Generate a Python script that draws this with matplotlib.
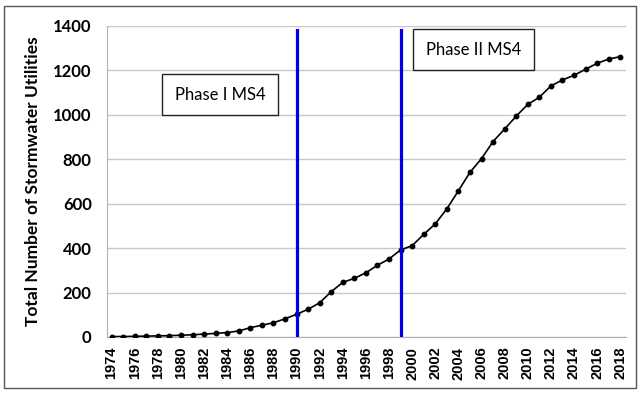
import numpy as np
import matplotlib.pyplot as plt
from matplotlib.patches import Rectangle

# yearly totals
years = list(range(1974, 2019))
utilities = [2, 2, 3, 4, 5, 6, 8, 10, 13, 16,
             20, 27, 42, 53, 64, 82, 102, 125, 154, 204,
             246, 264, 289, 323, 351, 392, 411, 462, 509, 577,
             658, 741, 803, 880, 936, 994, 1047, 1079, 1130, 1157,
             1178, 1205, 1232, 1251, 1262]

phase_years = [1990, 1999]
phase_labels = ['Phase I MS4', 'Phase II MS4']
y_ticks = [0, 200, 400, 600, 800, 1000, 1200, 1400]
x_ticks = list(range(1974, 2019, 2))

fig = plt.figure(figsize=(6.41, 3.98), dpi=100)
ax = fig.add_axes([0.1669, 0.1533, 0.8097, 0.7814])

# outer frame
fig.patches.append(Rectangle((0.006, 0.025), 0.986, 0.96, transform=fig.transFigure,
                             fill=False, edgecolor='#555555', linewidth=1.0))

ax.plot(years, utilities, color='black', linewidth=1.2, marker='o', markersize=3.2, zorder=3)

for yr in phase_years:
    ax.plot([yr, yr], [0, 1380], color='#0000e6', linewidth=2.3, zorder=4)

box = dict(boxstyle='square,pad=0.75', facecolor='white', edgecolor='#222222', linewidth=1.0)
ax.text(1983.4, 1090, phase_labels[0], ha='center', va='center', fontsize=12,
        family='Lato', bbox=box)
ax.text(2005.3, 1293, phase_labels[1], ha='center', va='center', fontsize=12,
        family='Lato', bbox=box)

ax.set_xlim(1973.6, 2018.5)
ax.set_ylim(0, 1400)
ax.set_yticks(y_ticks)
ax.set_xticks(x_ticks)
ax.set_xticklabels([str(x) for x in x_ticks], rotation=90, fontsize=10.5,
                   fontweight='bold', family='Liberation Sans')
ax.set_yticklabels([str(y) for y in y_ticks], fontsize=12, fontweight='bold', family='Lato')
ax.tick_params(axis='y', length=0, pad=11)
ax.tick_params(axis='x', length=0, pad=7)

ax.grid(axis='y', color='#c8c8c8', linewidth=1.0)
ax.set_axisbelow(True)
for s in ['top', 'right']:
    ax.spines[s].set_visible(False)
ax.spines['left'].set_color('#b0b0b0')
ax.spines['bottom'].set_color('#b0b0b0')

ax.set_ylabel('Total Number of Stormwater Utilities', fontsize=12.5, fontweight='bold',
              family='Lato', labelpad=9)

fig.savefig('out.png', dpi=100)
